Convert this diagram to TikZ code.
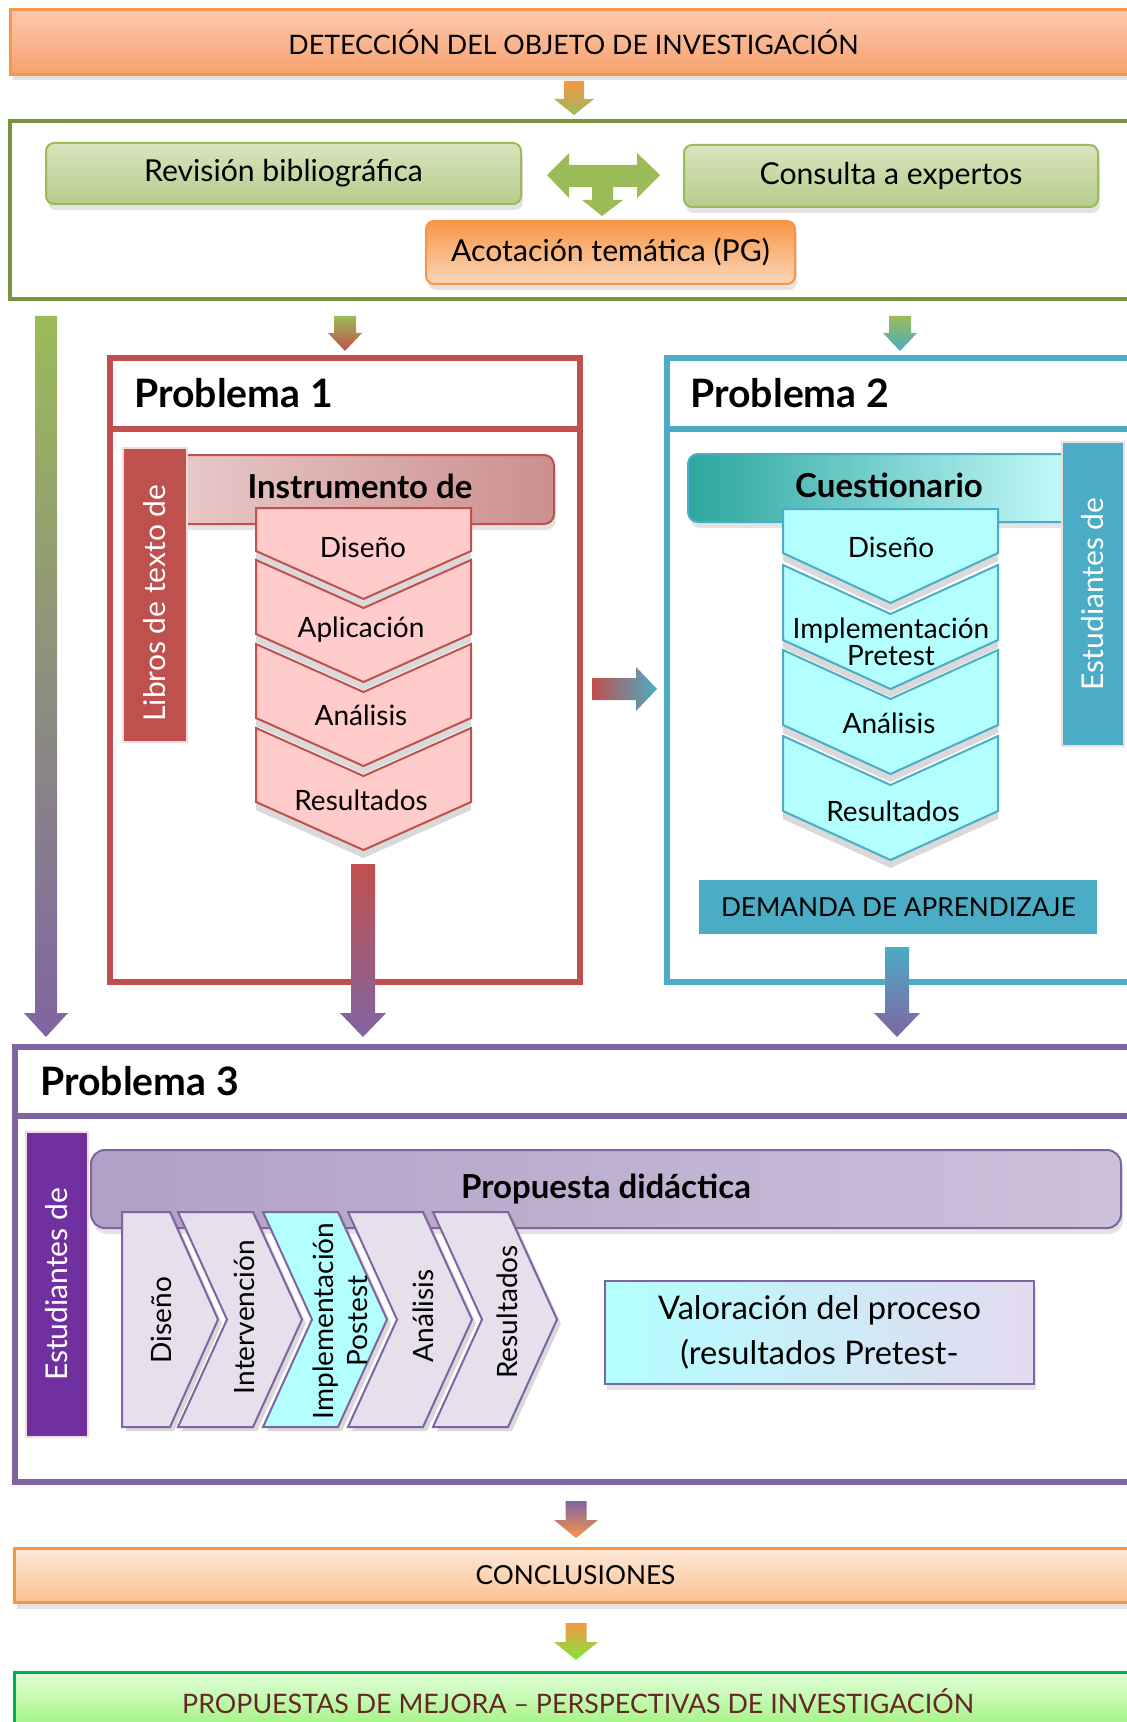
\documentclass[tikz,border=0pt]{standalone}
\usepackage{fontspec}
\setmainfont{Lato}
\usetikzlibrary{calc,shadows}

\definecolor{orangeA}{HTML}{F79646}
\definecolor{peachT}{HTML}{FCC8AE}
\definecolor{peachB}{HTML}{F6A26E}
\definecolor{apricot}{HTML}{FCD7BA}
\definecolor{creamT}{HTML}{FDE9D9}
\definecolor{creamB}{HTML}{FAC090}
\definecolor{greenA}{HTML}{9BBB59}
\definecolor{oliveA}{HTML}{77933C}
\definecolor{sageT}{HTML}{D8E4BD}
\definecolor{sageB}{HTML}{B5CD8C}
\definecolor{redA}{HTML}{C0504D}
\definecolor{roseL}{HTML}{EACACA}
\definecolor{roseR}{HTML}{CB8F8E}
\definecolor{pinkA}{HTML}{FFCBCB}
\definecolor{blush}{HTML}{F2DCDB}
\definecolor{blueA}{HTML}{4BACC6}
\definecolor{tealA}{HTML}{2CA6A0}
\definecolor{iceA}{HTML}{C4F8F8}
\definecolor{iceB}{HTML}{CCFFFF}
\definecolor{cyanA}{HTML}{B3FFFF}
\definecolor{purpleA}{HTML}{8064A2}
\definecolor{violetA}{HTML}{7030A0}
\definecolor{mauveL}{HTML}{B1A0C7}
\definecolor{mauveR}{HTML}{CCC0DA}
\definecolor{lilacA}{HTML}{E5E0EC}
\definecolor{hazeM}{HTML}{D4DCF2}
\definecolor{hazeR}{HTML}{E4DAF0}
\definecolor{mintT}{HTML}{E2FFD6}
\definecolor{mintB}{HTML}{9EF27E}
\definecolor{limeA}{HTML}{00B050}
\definecolor{springA}{HTML}{7CE83C}
\definecolor{maroonA}{HTML}{652828}

\newcommand\vblock[6]{%
  \path[#1] let \p1=(#2), \p2=(#3) in
    (\x1-#4,\y1) -- (\x1+#4,\y1) -- (\x1+#4,\y2+#6) -- (\x1+#5,\y2+#6)
    -- (\x1,\y2) -- (\x1-#5,\y2+#6) -- (\x1-#4,\y2+#6) -- cycle;}
\newcommand\hblock[6]{%
  \path[#1] let \p1=(#2), \p2=(#3) in
    (\x1,\y1+#4) -- (\x2-#6,\y1+#4) -- (\x2-#6,\y1+#5) -- (\x2,\y1)
    -- (\x2-#6,\y1-#5) -- (\x2-#6,\y1-#4) -- (\x1,\y1-#4) -- cycle;}

\tikzset{
  soft shadow/.style={drop shadow={shadow xshift=1pt,shadow yshift=-3pt,opacity=.22}},
  banner/.style={anchor=north west,line width=1.5pt,inner sep=0pt,soft shadow},
  greenbox/.style={anchor=north west,draw=greenA,line width=1pt,rounded corners=4pt,
    top color=sageT,bottom color=sageB,inner sep=0pt,soft shadow,font=\fontsize{15.1}{18}\selectfont},
  orangebox/.style={anchor=north west,draw=orangeA,line width=1pt,rounded corners=4pt,
    top color=orangeA,bottom color=apricot,inner sep=0pt,soft shadow,font=\fontsize{15.1}{18}\selectfont},
  frametitle/.style={anchor=west,inner sep=0pt,font=\bfseries\fontsize{19.6}{23}\selectfont},
  headbar/.style={anchor=north west,line width=1pt,rounded corners=5pt,inner sep=0pt,soft shadow,
    font=\bfseries\fontsize{16.5}{20}\selectfont},
  sidebox/.style={rotate=90,text=white,inner sep=0pt,line width=1pt,draw=blush,font=\fontsize{15}{18}\selectfont},
  redstep/.style={fill=pinkA,draw=redA,line width=1pt,drop shadow={shadow xshift=0pt,shadow yshift=-4pt,opacity=.3}},
  bluestep/.style={fill=cyanA,draw=blueA,line width=1pt,drop shadow={shadow xshift=0pt,shadow yshift=-4pt,opacity=.3}},
  lilacstep/.style={fill=lilacA,draw=purpleA,line width=1pt,drop shadow={shadow xshift=2pt,shadow yshift=-2pt,opacity=.3}},
  steptext/.style={font=\fontsize{14}{16}\selectfont},
}

\begin{document}
\begin{tikzpicture}[x=0.5pt,y=-0.5pt]
\useasboundingbox (0,0) rectangle (1127,1722);
\clip (0,0) rectangle (1127,1722);

% detection
\node[banner,draw=orangeA,top color=peachT,bottom color=peachB,minimum width=563pt,minimum height=32.5pt,
  font=\fontsize{13.4}{16}\selectfont] (detec) at (9,8) {DETECCIÓN DEL OBJETO DE INVESTIGACIÓN};

\draw[oliveA,line width=2pt] (10,121) rectangle (1150,299);
\node[greenbox,minimum width=237.5pt,minimum height=30.5pt] (revision) at (45,142) {Revisión bibliográfica};
\node[greenbox,minimum width=207pt,minimum height=31pt] (consulta) at (683,144) {Consulta a expertos};
\node[orangebox,minimum width=184.5pt,minimum height=31.5pt] (acota) at (425,220) {Acotación temática (PG)};
\fill[greenA] (547,175) -- (569,153) -- (569,165) -- (637,165) -- (637,153) -- (660,175) -- (637,198)
  -- (637,187) -- (613,187) -- (613,200) -- (623,200) -- (602,216) -- (582,200) -- (592,200)
  -- (592,187) -- (569,187) -- (569,198) -- cycle;

% problema 1
\draw[redA,line width=3pt] (110,358) rectangle (580,982);
\draw[redA,line width=3pt] (110,429) -- (580,429);
\node[frametitle] (prob1) at (134,393) {Problema 1};
\node[headbar,draw=redA,left color=roseL,right color=roseR,minimum width=194pt,minimum height=34.5pt]
  (instr) at (165,454) {\raisebox{3pt}{Instrumento de}};
\node[sidebox,fill=redA,minimum width=147pt,minimum height=32pt] (libros) at (155,595) {Libros de texto de\kern8pt};
\draw[redstep] (256,508) -- (471,508) -- (471,551) -- (363.5,599) -- (256,551) -- cycle;
\draw[redstep] (256,560) -- ++(107.5,48) -- ++(107.5,-48) -- ++(0,74) -- ++(-107.5,48) -- ++(-107.5,-48) -- cycle;
\draw[redstep] (256,644) -- ++(107.5,48) -- ++(107.5,-48) -- ++(0,74) -- ++(-107.5,48) -- ++(-107.5,-48) -- cycle;
\draw[redstep] (256,728) -- ++(107.5,48) -- ++(107.5,-48) -- ++(0,74) -- ++(-107.5,48) -- ++(-107.5,-48) -- cycle;
\node[steptext] (dis1) at (363,547) {Diseño};
\node[steptext] (apl1) at (361,630) {Aplicación};
\node[steptext] (ana1) at (361,715) {Análisis};
\node[steptext] (res1) at (361,800) {Resultados};

% problema 2
\draw[blueA,line width=3pt] (667,358) rectangle (1150,982);
\draw[blueA,line width=3pt] (667,429) -- (1150,429);
\node[frametitle] (prob2) at (690,393) {Problema 2};
\node[headbar,draw=blueA,left color=tealA,middle color=iceA,right color=iceB,minimum width=201pt,minimum height=34pt]
  (cuest) at (687,453) {\raisebox{3pt}{Cuestionario}};
\node[sidebox,fill=blueA,minimum width=152pt,minimum height=31pt] (estud2) at (1093,594) {Estudiantes de};
\draw[bluestep] (783,509) -- (998,509) -- (998,553) -- (890.5,603) -- (783,553) -- cycle;
\draw[bluestep] (783,565) -- ++(107.5,49) -- ++(107.5,-49) -- ++(0,75) -- ++(-107.5,49) -- ++(-107.5,-49) -- cycle;
\draw[bluestep] (783,650) -- ++(107.5,49) -- ++(107.5,-49) -- ++(0,75) -- ++(-107.5,49) -- ++(-107.5,-49) -- cycle;
\draw[bluestep] (783,736) -- ++(107.5,49) -- ++(107.5,-49) -- ++(0,75) -- ++(-107.5,49) -- ++(-107.5,-49) -- cycle;
\node[steptext] (dis2) at (891,547) {Diseño};
\node[steptext,align=center,font=\fontsize{14}{13.5}\selectfont] (imp2) at (891,642) {Implementación\\Pretest};
\node[steptext] (ana2) at (889,723) {Análisis};
\node[steptext] (res2) at (893,811) {Resultados};
\node[anchor=north west,fill=blueA,minimum width=199pt,minimum height=27pt,inner sep=0pt,
  font=\fontsize{13.1}{16}\selectfont] (demanda) at (699,880) {DEMANDA DE APRENDIZAJE};

% problema 3
\draw[purpleA,line width=3pt] (15,1047) rectangle (1150,1482);
\draw[purpleA,line width=3pt] (15,1116) -- (1150,1116);
\node[frametitle] (prob3) at (40,1081) {Problema 3};
\node[headbar,draw=purpleA,left color=mauveL,right color=mauveR,rounded corners=7pt,minimum width=515pt,minimum height=39pt]
  (propuesta) at (90,1149) {\raisebox{2pt}{Propuesta didáctica}};
\node[sidebox,fill=violetA,minimum width=152.5pt,minimum height=31pt] (estud3) at (57,1284.5) {Estudiantes de};
\draw[lilacstep] (122,1212) -- (170,1212) -- (218,1319.5) -- (170,1427) -- (122,1427) -- cycle;
\draw[lilacstep] (178,1212) -- ++(75,0) -- ++(49,107.5) -- ++(-49,107.5) -- ++(-75,0) -- ++(49,-107.5) -- cycle;
\draw[lilacstep,fill=cyanA] (263,1212) -- ++(75,0) -- ++(49,107.5) -- ++(-49,107.5) -- ++(-75,0) -- ++(49,-107.5) -- cycle;
\draw[lilacstep] (348,1212) -- ++(75,0) -- ++(49,107.5) -- ++(-49,107.5) -- ++(-75,0) -- ++(49,-107.5) -- cycle;
\draw[lilacstep] (433,1212) -- ++(75,0) -- ++(49,107.5) -- ++(-49,107.5) -- ++(-75,0) -- ++(49,-107.5) -- cycle;
\node[steptext,rotate=90] (dis3) at (161,1320) {Diseño};
\node[steptext,rotate=90] (int3) at (244,1317) {Intervención};
\node[steptext,rotate=90,align=center,font=\fontsize{14}{17}\selectfont] (imp3) at (340,1321) {Implementación\\Postest};
\node[steptext,rotate=90] (ana3) at (423,1316) {Análisis};
\node[steptext,rotate=90] (res3) at (507,1312) {Resultados};
\node[anchor=north west,draw=purpleA,line width=1pt,left color=cyanA,middle color=hazeM,right color=hazeR,
  minimum width=214.5pt,minimum height=51.5pt,inner sep=0pt,soft shadow,align=center,
  font=\fontsize{16.3}{22.5}\selectfont] (valor) at (604,1280) {Valoración del proceso\\(resultados Pretest-};

% closing bars
\node[banner,draw=orangeA,top color=creamT,bottom color=creamB,minimum width=561pt,minimum height=27pt,
  font=\fontsize{13.1}{16}\selectfont] (concl) at (13,1547) {CONCLUSIONES};
\node[banner,draw=limeA,top color=mintT,bottom color=mintB,minimum width=563.5pt,minimum height=29pt,
  text=maroonA,font=\fontsize{13.4}{16}\selectfont] (mejora) at (13,1671) {PROPUESTAS DE MEJORA – PERSPECTIVAS DE INVESTIGACIÓN};

% block arrows
\coordinate (a1s) at (574,81);   \coordinate (a1e) at (574,115);
\coordinate (lfs) at (46,316);   \coordinate (lfe) at (46,1037);
\coordinate (p1s) at (345,316);  \coordinate (p1e) at (345,351);
\coordinate (p2s) at (900,316);  \coordinate (p2e) at (900,351);
\coordinate (o1s) at (363,864);  \coordinate (o1e) at (363,1037);
\coordinate (o2s) at (897,947);  \coordinate (o2e) at (897,1037);
\coordinate (mds) at (592,689);  \coordinate (mde) at (657,689);
\coordinate (b1s) at (576,1501); \coordinate (b1e) at (576,1538);
\coordinate (b2s) at (576,1623); \coordinate (b2e) at (576,1660);

\vblock{top color=orangeA,bottom color=greenA}{a1s}{a1e}{5pt}{10pt}{8pt}
\vblock{top color=greenA,bottom color=purpleA}{lfs}{lfe}{5.5pt}{11pt}{12pt}
\vblock{top color=greenA,bottom color=redA}{p1s}{p1e}{5.5pt}{8.5pt}{9pt}
\vblock{top color=greenA,bottom color=blueA}{p2s}{p2e}{5.5pt}{8.5pt}{9pt}
\vblock{top color=redA,bottom color=purpleA}{o1s}{o1e}{6pt}{11.5pt}{12pt}
\vblock{top color=blueA,bottom color=purpleA}{o2s}{o2e}{6pt}{11.5pt}{12pt}
\hblock{left color=redA,right color=blueA}{mds}{mde}{5.5pt}{11pt}{10.5pt}
\vblock{top color=purpleA,bottom color=orangeA}{b1s}{b1e}{5.25pt}{11pt}{9pt}
\vblock{top color=orangeA,bottom color=springA}{b2s}{b2e}{5.25pt}{11pt}{9pt}

\end{tikzpicture}
\end{document}
